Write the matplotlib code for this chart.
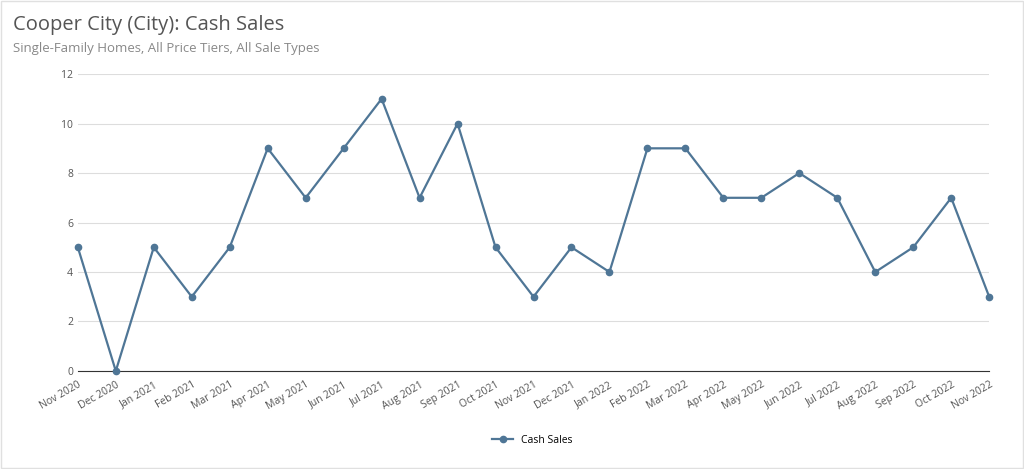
import matplotlib

matplotlib.use("Agg")
import matplotlib.pyplot as plt

months = [
    "Nov 2020", "Dec 2020", "Jan 2021", "Feb 2021", "Mar 2021", "Apr 2021",
    "May 2021", "Jun 2021", "Jul 2021", "Aug 2021", "Sep 2021", "Oct 2021",
    "Nov 2021", "Dec 2021", "Jan 2022", "Feb 2022", "Mar 2022", "Apr 2022",
    "May 2022", "Jun 2022", "Jul 2022", "Aug 2022", "Sep 2022", "Oct 2022",
    "Nov 2022",
]
cash_sales = [5, 0, 5, 3, 5, 9, 7, 9, 11, 7, 10, 5, 3, 5, 4, 9, 9, 7, 7, 8, 7, 4, 5, 7, 3]
y_ticks = [0, 2, 4, 6, 8, 10, 12]

plt.rcParams["font.family"] = "Open Sans"
LINE = "#4f7696"

fig = plt.figure(figsize=(10.24, 4.69), dpi=100)
ax = fig.add_axes([0.076, 0.209, 0.89, 0.633])

x = list(range(len(months)))
ax.plot(x, cash_sales, color=LINE, linewidth=1.6, marker="o", markersize=4.5,
        label="Cash Sales", zorder=3, clip_on=False)

ax.set_xlim(0, len(months) - 1)
ax.set_ylim(0, 12)
ax.set_yticks(y_ticks)
ax.set_xticks(x)
ax.set_xticklabels(months, rotation=30, ha="right", rotation_mode="anchor")
ax.tick_params(axis="both", labelsize=7.5, colors="#555555", length=0)
ax.tick_params(axis="x", pad=6)
ax.grid(axis="y", color="#dddddd", linewidth=0.8)
ax.set_axisbelow(True)
for side in ("top", "right", "left"):
    ax.spines[side].set_visible(False)
ax.spines["bottom"].set_color("#333333")

fig.text(0.013, 0.937, "Cooper City (City): Cash Sales", fontsize=14.5, color="#555555")
fig.text(0.013, 0.89, "Single-Family Homes, All Price Tiers, All Sale Types",
         fontsize=9.5, color="#888888")

fig.legend(loc="lower center", bbox_to_anchor=(0.52, 0.03), frameon=False,
           fontsize=7.5, handlelength=2)

fig.patches.append(plt.Rectangle((0.001, 0.002), 0.998, 0.996, transform=fig.transFigure,
                                 fill=False, edgecolor="#e0e0e0", linewidth=1))

fig.savefig("out.png", dpi=100, facecolor="white")
